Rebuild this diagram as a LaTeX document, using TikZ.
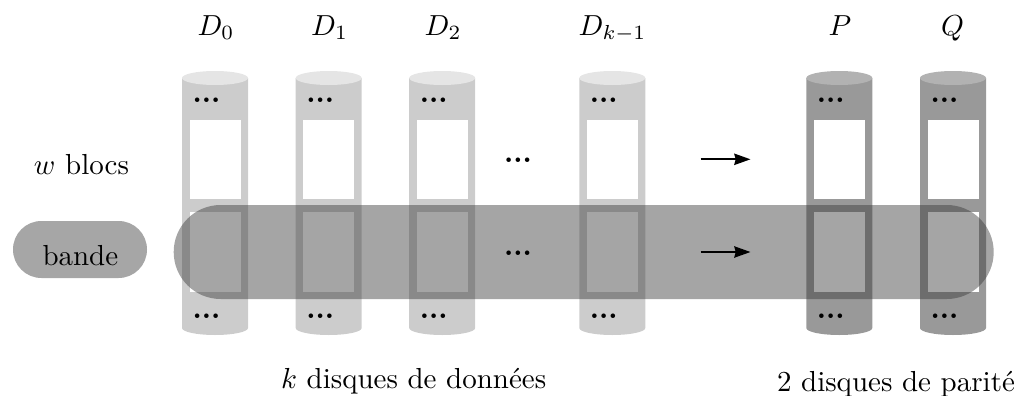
\documentclass[tikz,border=0pt]{standalone}
\usepackage{amsmath}
\usetikzlibrary{arrows.meta}
\definecolor{bandcol}{gray}{0.22}
\tikzset{
  px/.style={x=0.345pt,y=-0.345pt},
  lbl/.style={inner sep=0pt,outer sep=0pt,anchor=base west},
  dotsn/.style={inner sep=0pt,outer sep=0pt,anchor=center},
  flow/.style={line width=0.68pt,-{Stealth[length=5.6pt,width=3.9pt,inset=0.5pt]}},
  slot/.style={fill=white,draw=none},
  band/.style={fill=bandcol,fill opacity=0.45,draw=none,rounded corners=16.2pt},
  pill/.style={fill=black!35,draw=none,rounded corners=9.8pt}
}
\newcommand{\tdots}{\textbf{...}}
% x-left, body colour, top colour, name
\newcommand{\disque}[4]{%
  \fill[#2] (#1,78) -- (#1+66,78) -- (#1+66,328)
     arc[start angle=0,end angle=180,x radius=33,y radius=7] -- cycle;
  \fill[#3] (#1+33,78) ellipse[x radius=33,y radius=7];
  \fill[slot] (#1+7.5,120.3) rectangle (#1+58.7,199);
  \fill[slot] (#1+7.5,212.3) rectangle (#1+58.7,292);
  \node[dotsn] (#4top) at (#1+24.5,100.6) {\tdots};
  \node[dotsn] (#4bot) at (#1+24.5,316.2) {\tdots};
}
\begin{document}
\begin{tikzpicture}[px]
\useasboundingbox (0,0) rectangle (1018,396);
\disque{182}{black!20}{black!10}{a}
\disque{295.7}{black!20}{black!10}{b}
\disque{409.2}{black!20}{black!10}{c}
\disque{579.3}{black!20}{black!10}{d}
\disque{806.3}{black!40}{black!30}{p}
\disque{920}{black!40}{black!30}{q}
\fill[band] (173.7,205) rectangle (993.7,299);
\fill[pill] (13,221) rectangle (147,278);
\node[lbl] (t0) at (197.5,35.5) {$D_0$};
\node[lbl] (t1) at (311,35.5) {$D_1$};
\node[lbl] (t2) at (424.5,35.5) {$D_2$};
\node[lbl] (t3) at (578.5,35.5) {$D_{k-1}$};
\node[lbl] (tp) at (828.5,35.5) {$P$};
\node[lbl] (tq) at (941,35.5) {$Q$};
\node[lbl] (wb) at (34,174) {$w$ blocs};
\node[lbl] (bd) at (42.5,265) {bande};
\node[lbl] (kd) at (281,388) {$k$ disques de données};
\node[lbl] (pd) at (777,391) {2 disques de parité};
\node[dotsn] (m1) at (518,160.3) {\tdots};
\node[dotsn] (m2) at (518,253.3) {\tdots};
\coordinate (a1) at (700.7,159.3);
\coordinate (b1) at (750.5,159.3);
\coordinate (a2) at (700.7,252);
\coordinate (b2) at (750.5,252);
\draw[flow] (a1) -- (b1);
\draw[flow] (a2) -- (b2);
\end{tikzpicture}
\end{document}
